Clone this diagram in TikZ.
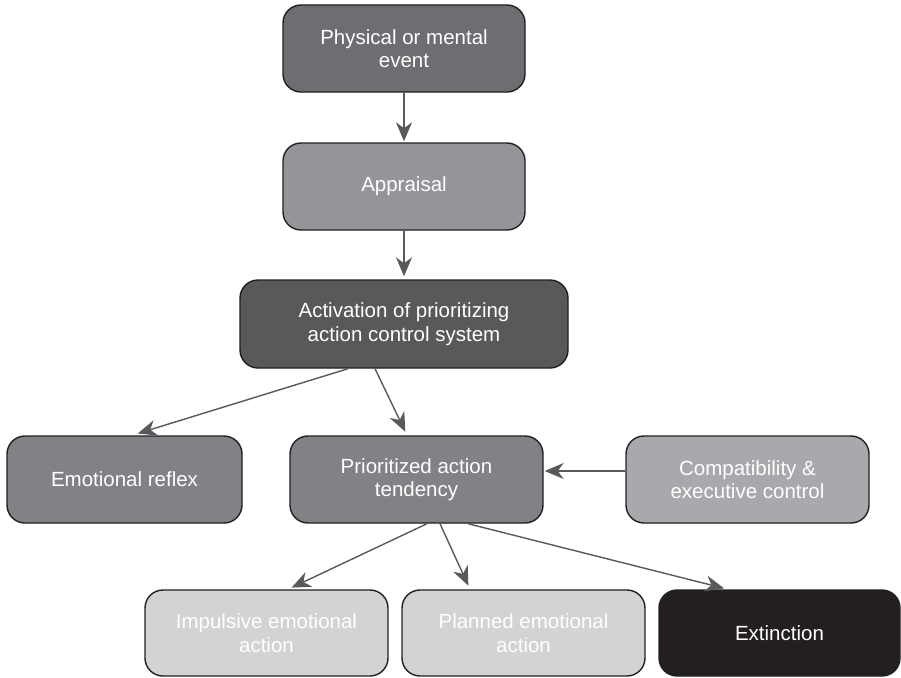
\documentclass[tikz,border=0pt]{standalone}
\usepackage{fontspec}
\setmainfont{Liberation Sans}
\usepackage{xcolor}
\usetikzlibrary{arrows.meta, positioning, calc}

\definecolor{physgray}{HTML}{6D6E71}
\definecolor{apprgray}{HTML}{939598}
\definecolor{actgray}{HTML}{58595B}
\definecolor{midgray}{HTML}{808285}
\definecolor{compgray}{HTML}{A7A9AC}
\definecolor{lightgray}{HTML}{D1D3D4}
\definecolor{extblack}{HTML}{231F20}
\definecolor{arrowgray}{HTML}{58595B}

\begin{document}
\begin{tikzpicture}[x=1pt, y=-1pt,
    stagebox/.style={draw=extblack, line width=1.4pt, rounded corners=18pt, text=white,
      align=center, inner sep=0pt, font=\fontsize{20.5}{23.5}\selectfont},
    flow/.style={draw=arrowgray, line width=1.4pt, shorten >=4pt,
      -{Stealth[length=19pt, width=16pt, inset=6pt]}}]
    \useasboundingbox (0,0) rectangle (901,677);
    \node(phys) at (404,48.5) [stagebox, fill=physgray, minimum width=242pt, minimum height=87pt] {Physical or mental\\event};
    \node(appr) at (404,186.5) [stagebox, fill=apprgray, minimum width=242pt, minimum height=87pt] {Appraisal};
    \node(act) at (404,324) [stagebox, fill=actgray, minimum width=328pt, minimum height=88pt] {Activation of prioritizing\\action control system};
    \node(refl) at (124.5,479.5) [stagebox, fill=midgray, minimum width=235pt, minimum height=87pt] {Emotional reflex};
    \node(tend) at (416.5,479.5) [stagebox, fill=midgray, minimum width=253pt, minimum height=87pt] {Prioritized action\\tendency};
    \node(comp) at (747.5,479.5) [stagebox, fill=compgray, minimum width=243pt, minimum height=87pt] {Compatibility \&\\executive control};
    \node(imp) at (266.5,633) [stagebox, fill=lightgray, minimum width=243pt, minimum height=86pt] {Impulsive emotional\\action};
    \node(plan) at (523.5,633) [stagebox, fill=lightgray, minimum width=243pt, minimum height=86pt] {Planned emotional\\action};
    \node(ext) at (779.5,633) [stagebox, fill=extblack, minimum width=241pt, minimum height=86pt] {Extinction};

    \draw[flow, shorten >=1pt] (phys) -- (appr);
    \draw[flow, shorten >=3pt] (appr) -- (act);
    \draw[flow, shorten >=6pt] ([xshift=-56pt]act.south) -- ([xshift=7.5pt]refl.north);
    \draw[flow] ([xshift=-29pt]act.south) -- ([xshift=-9.5pt]tend.north);
    \draw[flow, shorten >=1pt] ([yshift=8.5pt]comp.west) -- ([yshift=8.5pt]tend.east);
    \draw[flow] ([xshift=10.5pt]tend.south) -- ([xshift=21.5pt]imp.north);
    \draw[flow] ([xshift=23.5pt]tend.south) -- ([xshift=-53.5pt]plan.north);
    \draw[flow] ([xshift=51.5pt]tend.south) -- ([xshift=-51.5pt]ext.north);
  \end{tikzpicture}
\end{document}
